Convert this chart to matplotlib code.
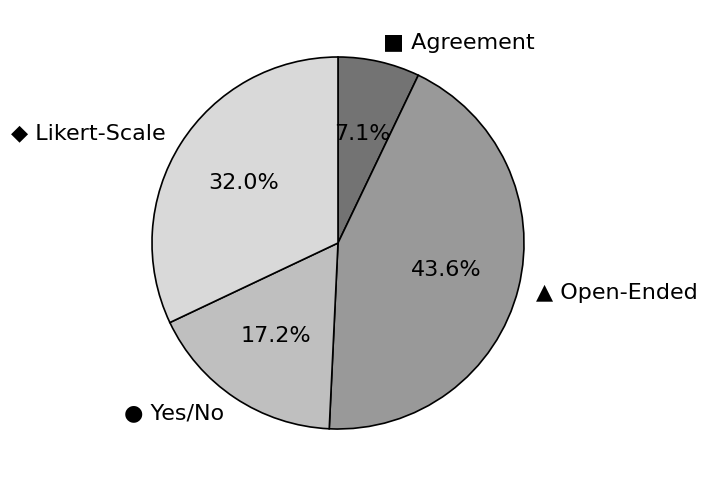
import matplotlib
matplotlib.use("Agg")
import matplotlib.pyplot as plt

labels = ["■ Agreement", "▲ Open-Ended", "● Yes/No", "◆ Likert-Scale"]
values = [7.1, 43.6, 17.2, 32.0]
colors = ["#737373", "#999999", "#bfbfbf", "#d9d9d9"]

fig = plt.figure(figsize=(7.08, 4.86), dpi=100)
cx, cy, r = 338, 243, 186
ax = fig.add_axes([(cx - r) / 708, (486 - cy - r) / 486, 2 * r / 708, 2 * r / 486])
ax.pie(values, labels=labels, colors=colors, startangle=90, counterclock=False,
       autopct="%1.1f%%", wedgeprops=dict(edgecolor="black", linewidth=1.2),
       textprops=dict(fontsize=16))
ax.set_xlim(-1, 1)
ax.set_ylim(-1, 1)
ax.set_aspect("equal")
fig.savefig("out.png", dpi=100)
